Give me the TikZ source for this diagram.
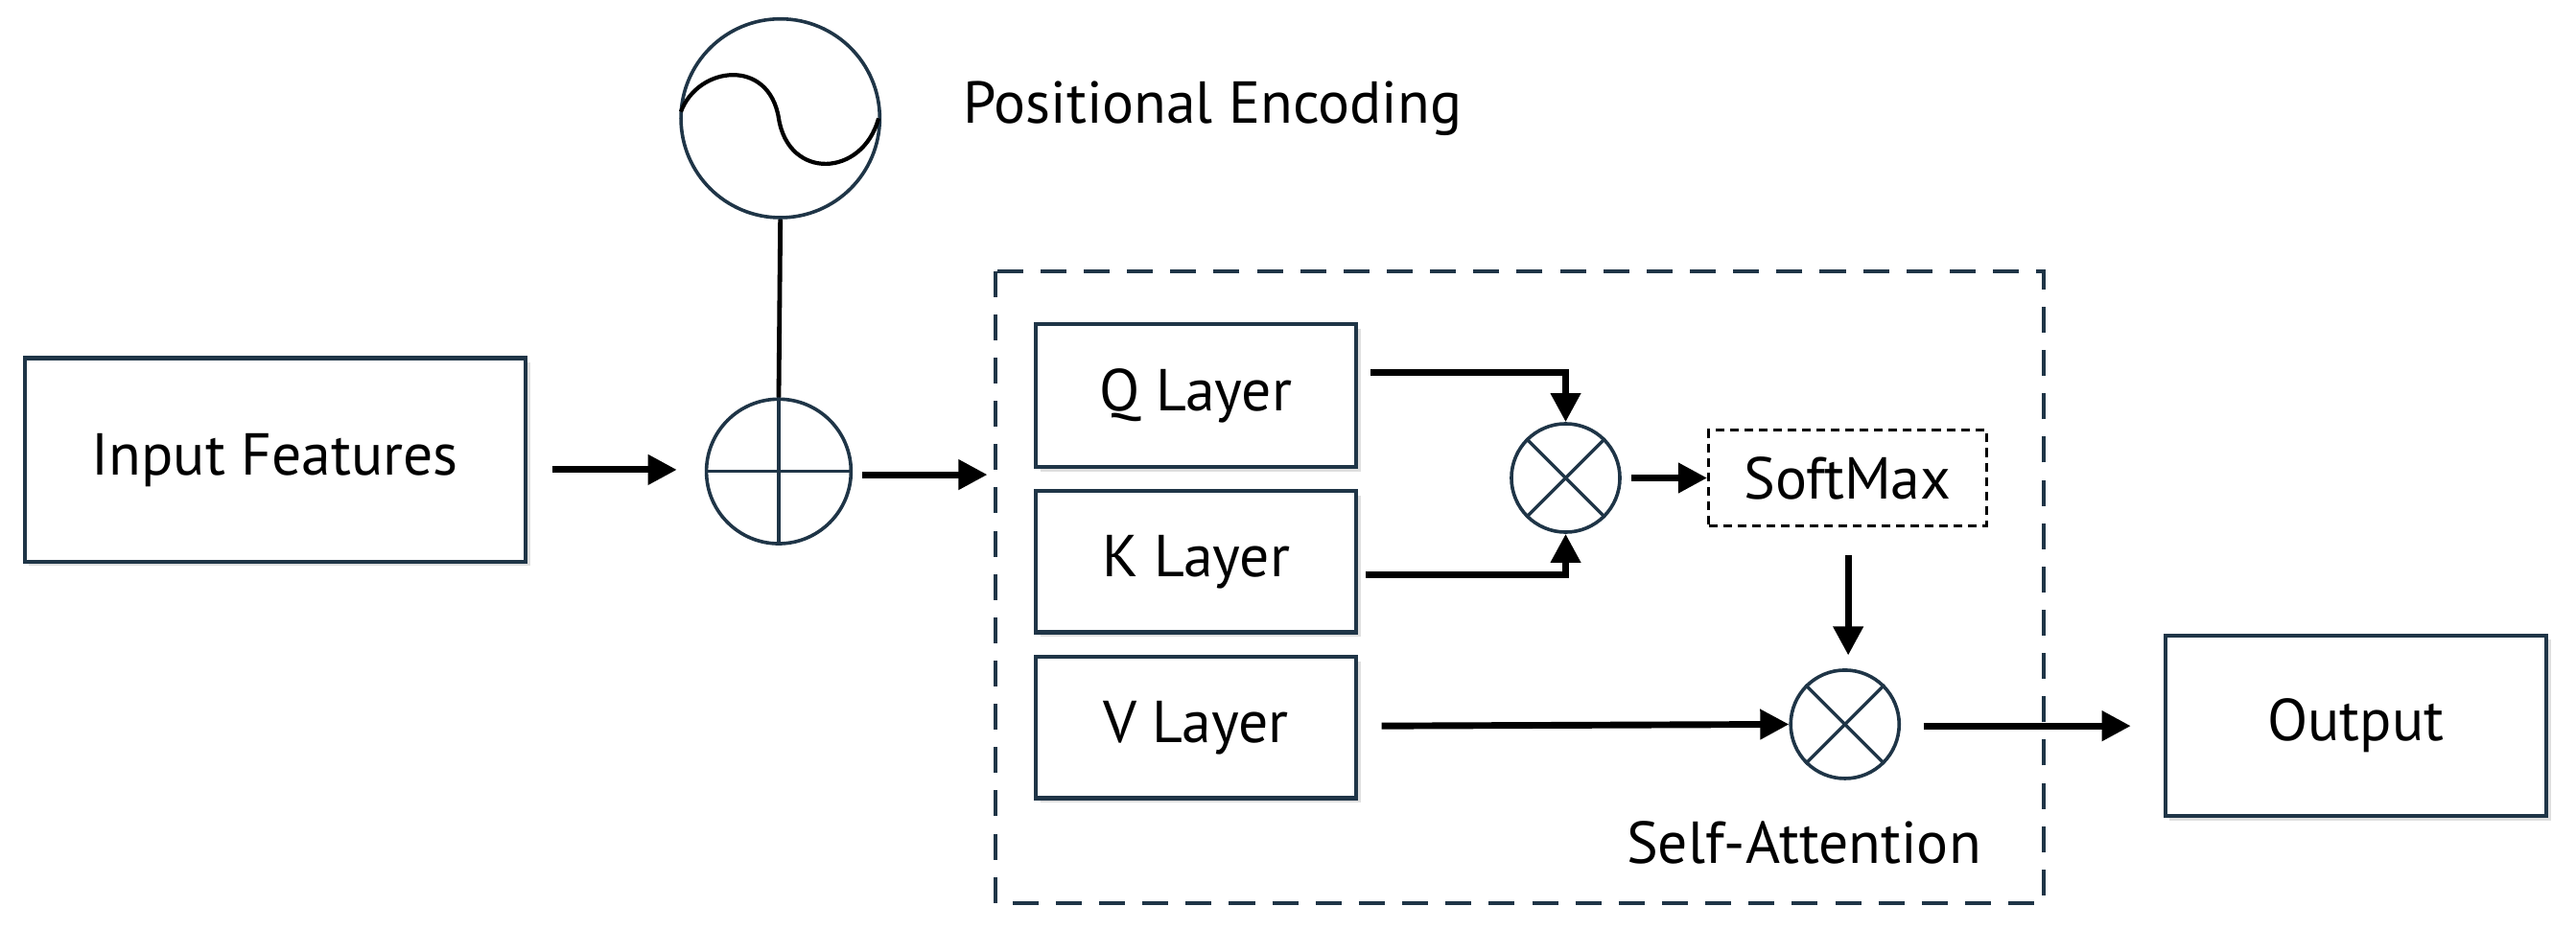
\documentclass[tikz,border=0pt]{standalone}
\usepackage{fontspec}
\setmainfont{PT Sans}
\usetikzlibrary{arrows.meta,shadows}
\definecolor{edge}{HTML}{1F3547}
\begin{document}
\begin{tikzpicture}[x=0.02cm,y=-0.02cm,
  box/.style={draw=edge,line width=1.4pt,fill=white,inner sep=0pt,
    drop shadow={shadow xshift=1.5pt,shadow yshift=-1.5pt,opacity=0.25}},
  lbl/.style={font=\fontsize{20.5}{24}\selectfont},
  arr/.style={line width=2.3pt,-{Triangle[length=10pt,width=10pt]}},
  circ/.style={draw=edge,line width=1.2pt,circle,inner sep=0pt}]
\useasboundingbox (0,0) rectangle (1568,566);
% nodes
\node[box,minimum width=305*0.02cm,minimum height=124*0.02cm,lbl] (inp) at (167.5,280) {Input Features};
\node[circ,minimum size=121*0.02cm] (pe) at (475,72) {};
\node[circ,minimum size=88*0.02cm] (add) at (474,287) {};
\node[lbl,anchor=west] (pet) at (580,66) {Positional Encoding};
\draw[edge,line width=1.2pt] (add.north) -- (add.south) (add.west) -- (add.east);
\draw[line width=1.4pt] (pe.west) ++(1,-4) .. controls (425,40) and (468,35) .. (474,72)
  .. controls (480,110) and (525,108) .. ([xshift=-1pt]pe.east);
\draw[line width=1.6pt] (pe.south) -- (add.north);
\draw[edge,line width=1.3pt,dash pattern=on 9pt off 6pt] (606,165) rectangle (1244,550);
\node[box,minimum width=195*0.02cm,minimum height=87*0.02cm,lbl] (q) at (728,241) {Q Layer};
\node[box,minimum width=195*0.02cm,minimum height=86*0.02cm,lbl] (k) at (728,342) {K Layer};
\node[box,minimum width=195*0.02cm,minimum height=86*0.02cm,lbl] (v) at (728,443) {V Layer};
\node[circ,minimum size=66*0.02cm] (m1) at (953,291) {};
\node[circ,minimum size=66*0.02cm] (m2) at (1123,441) {};
\foreach \m in {m1,m2}{\draw[edge,line width=1.1pt] (\m.north west) -- (\m.south east) (\m.north east) -- (\m.south west);}
\node[draw,line width=1pt,dash pattern=on 3pt off 2pt,minimum width=169*0.02cm,minimum height=58*0.02cm,lbl] (sm) at (1124.5,291) {SoftMax};
\node[box,minimum width=232*0.02cm,minimum height=110*0.02cm,lbl] (out) at (1434,442) {Output};
\node[lbl] (sa) at (1098,513) {Self-Attention};
% connectors
\coordinate (a1) at (336,286); \coordinate (a2) at (412,286);
\draw[arr] (a1) -- (a2);
\coordinate (b1) at (525,289); \coordinate (b2) at (601,289);
\draw[arr] (b1) -- (b2);
\coordinate (qs) at (834,227); \coordinate (ks) at (831,350);
\draw[arr] (qs) -| (m1.north);
\draw[arr] (ks) -| (m1.south);
\draw[arr] (m1.east) ++(6,0) coordinate (c1) (c1) -- (sm.west);
\coordinate (d1) at (1125,338); \coordinate (d2) at (1125,399);
\draw[arr] (d1) -- (d2);
\coordinate (vs) at (841,442);
\draw[arr] (vs) -- (m2.west);
\coordinate (os) at (1171,442); \coordinate (oe) at (1297,442);
\draw[arr] (os) -- (oe);
\end{tikzpicture}
\end{document}
